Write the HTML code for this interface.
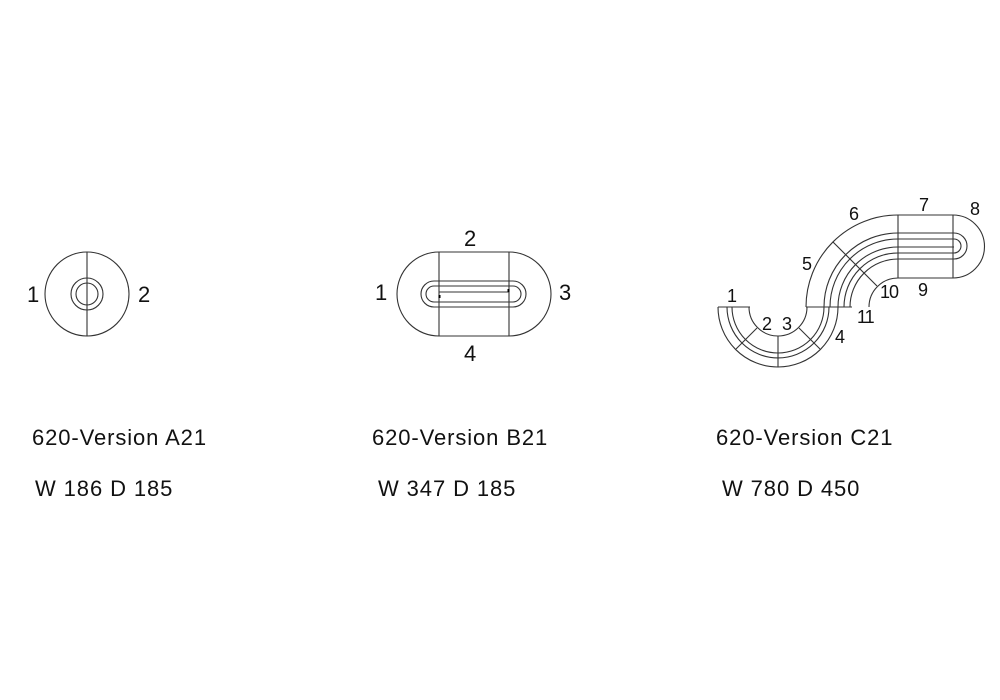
<!DOCTYPE html>
<html><head><meta charset="utf-8"><style>
html,body{margin:0;padding:0;background:#fff;}
body{width:1000px;height:700px;position:relative;overflow:hidden;font-family:"Liberation Sans",sans-serif;color:#111;}
.t{position:absolute;font-size:22px;letter-spacing:0.9px;white-space:nowrap;line-height:1;}
.n{font-size:18px;letter-spacing:0;}
svg{position:absolute;left:0;top:0;}
</style></head><body>
<svg width="1000" height="700" viewBox="0 0 1000 700" fill="none" stroke="#333" stroke-width="1.1">
<circle cx="87" cy="294" r="42"/>
<circle cx="87" cy="294" r="16"/>
<circle cx="87" cy="294" r="11"/>
<line x1="87" y1="252" x2="87" y2="336"/>
<path d="M439 252 H509 A42 42 0 0 1 509 336 H439 A42 42 0 0 1 439 252 Z"/>
<line x1="439" y1="252" x2="439" y2="336"/>
<line x1="509" y1="252" x2="509" y2="336"/>
<path d="M434 281 H513 A13 13 0 0 1 513 307 H434 A13 13 0 0 1 434 281 Z"/>
<path d="M434 286 H513 A8 8 0 0 1 513 302 H434 A8 8 0 0 1 434 286 Z"/>
<line x1="439" y1="292" x2="509" y2="292"/>
<rect x="438.5" y="295" width="2" height="3" fill="#000" stroke="none"/>
<rect x="507.5" y="289" width="2" height="3" fill="#000" stroke="none"/>
<path d="M806 307 A92 92 0 0 1 898 215 H953 A31.5 31.5 0 0 1 953 278 H898 A29 29 0 0 0 869 307"/>
<line x1="898" y1="215" x2="898" y2="278"/>
<line x1="953" y1="215" x2="953" y2="278"/>
<path d="M824 307 A74 74 0 0 1 898 233 H954 A13 13 0 0 1 954 259 H898 A48 48 0 0 0 850 307"/>
<path d="M830 307 A68 68 0 0 1 898 239 H954 A7 7 0 0 1 954 253 H898 A54 54 0 0 0 844 307"/>
<path d="M838 307 A60 60 0 0 1 898 247 H954"/>
<line x1="833" y1="242" x2="877" y2="286"/>
<line x1="806" y1="307" x2="852" y2="307"/>
<path d="M718 307 A60 60 0 0 0 838 307"/>
<path d="M749 307 A29 29 0 0 0 807 307"/>
<path d="M727 307 A51 51 0 0 0 829 307"/>
<path d="M732 307 A46 46 0 0 0 824 307"/>
<line x1="718" y1="307" x2="750" y2="307"/>
<line x1="757" y1="328" x2="736" y2="349"/>
<line x1="778" y1="336" x2="778" y2="367"/>
<line x1="799" y1="328" x2="820" y2="349"/>
</svg>
<div class="t" style="left:27px;top:284px">1</div>
<div class="t" style="left:138px;top:284px">2</div>
<div class="t" style="left:464px;top:228px">2</div>
<div class="t" style="left:464px;top:343px">4</div>
<div class="t" style="left:375px;top:282px">1</div>
<div class="t" style="left:559px;top:282px">3</div>
<div class="t n" style="left:727px;top:287px">1</div>
<div class="t n" style="left:762px;top:315px">2</div>
<div class="t n" style="left:782px;top:315px">3</div>
<div class="t n" style="left:835px;top:328px">4</div>
<div class="t n" style="left:802px;top:255px">5</div>
<div class="t n" style="left:849px;top:205px">6</div>
<div class="t n" style="left:919px;top:196px">7</div>
<div class="t n" style="left:970px;top:200px">8</div>
<div class="t n" style="left:918px;top:281px">9</div>
<div class="t n" style="left:880px;top:283px;letter-spacing:-1px">10</div>
<div class="t n" style="left:857px;top:308px;letter-spacing:-1px">11</div>
<div class="t" style="left:32px;top:427px">620-Version A21</div>
<div class="t" style="left:35px;top:478px">W 186 D 185</div>
<div class="t" style="left:372px;top:427px">620-Version B21</div>
<div class="t" style="left:378px;top:478px">W 347 D 185</div>
<div class="t" style="left:716px;top:427px">620-Version C21</div>
<div class="t" style="left:722px;top:478px">W 780 D 450</div>
</body></html>
